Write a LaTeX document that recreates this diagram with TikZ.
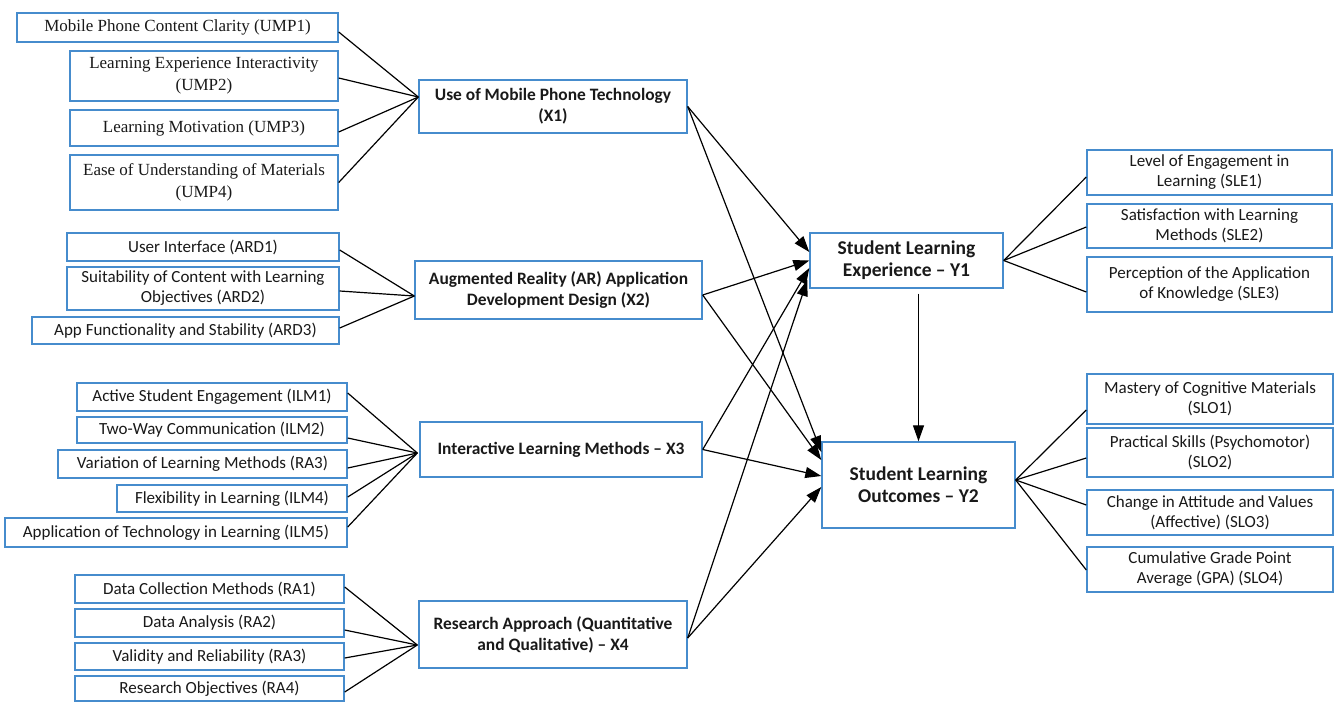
\documentclass[tikz,border=0pt]{standalone}
\usepackage{fontspec}
\setmainfont{Carlito}
\newfontfamily\tnr{Liberation Serif}
\usetikzlibrary{arrows.meta,calc}
\definecolor{boxblue}{RGB}{70,140,205}
\definecolor{txt}{RGB}{25,25,25}
\begin{document}
\begin{tikzpicture}[x=1pt,y=-1pt,
  box/.style={draw=boxblue, line width=1.4pt, fill=white, inner sep=0pt, align=center, text=txt},
  serifbox/.style={box, font=\tnr\fontsize{17}{22}\selectfont},
  sansbox/.style={box, font=\fontsize{17}{20}\selectfont},
  midbox/.style={box, font=\bfseries\fontsize{17.4}{21}\selectfont},
  ybox/.style={box, font=\bfseries\fontsize{19.5}{22}\selectfont},
  link/.style={draw=black, line width=1.2pt},
  arr/.style={link, -{Triangle[length=16pt,width=11pt]}}]
\useasboundingbox (0,0) rectangle (1335,702);
\fill[white] (0,0) rectangle (1335,702);

% UMP group
\node[serifbox, minimum width=321pt, minimum height=29pt] (ump1) at (177.5,27.5) {Mobile Phone Content Clarity (UMP1)};
\node[serifbox, minimum width=268pt, minimum height=50pt] (ump2) at (204,76) {Learning Experience Interactivity\\(UMP2)};
\node[serifbox, minimum width=268pt, minimum height=36pt] (ump3) at (204,128) {Learning Motivation (UMP3)};
\node[serifbox, minimum width=268pt, minimum height=55pt] (ump4) at (204,182.5) {Ease of Understanding of Materials\\(UMP4)};
\node[midbox, minimum width=268pt, minimum height=53pt] (x1) at (553,106.5) {Use of Mobile Phone Technology\\(X1)};

% ARD group
\node[sansbox, minimum width=272pt, minimum height=28pt] (ard1) at (203,247) {User Interface (ARD1)};
\node[sansbox, minimum width=272pt, minimum height=43pt] (ard2) at (203,288.5) {Suitability of Content with Learning\\Objectives (ARD2)};
\node[sansbox, minimum width=307pt, minimum height=27pt] (ard3) at (185.5,330.5) {App Functionality and Stability (ARD3)};
\node[midbox, minimum width=287pt, minimum height=58pt] (x2) at (558.5,290) {Augmented Reality (AR) Application\\Development Design (X2)};

% ILM group
\node[sansbox, minimum width=270pt, minimum height=28pt] (ilm1) at (212,397) {Active Student Engagement (ILM1)};
\node[sansbox, minimum width=270pt, minimum height=26pt] (ilm2) at (212,430) {Two-Way Communication (ILM2)};
\node[sansbox, minimum width=289pt, minimum height=28pt] (ilm3) at (202.5,464) {Variation of Learning Methods (RA3)};
\node[sansbox, minimum width=230pt, minimum height=27pt] (ilm4) at (232,498.5) {Flexibility in Learning (ILM4)};
\node[sansbox, minimum width=342pt, minimum height=29pt] (ilm5) at (176,532.5) {Application of Technology in Learning (ILM5)};
\node[midbox, minimum width=282pt, minimum height=55pt] (x3) at (561,449.5) {Interactive Learning Methods -- X3};

% RA group
\node[sansbox, minimum width=269pt, minimum height=28pt] (ra1) at (209.5,589) {Data Collection Methods (RA1)};
\node[sansbox, minimum width=269pt, minimum height=28pt] (ra2) at (209.5,623) {Data Analysis (RA2)};
\node[sansbox, minimum width=269pt, minimum height=27pt] (ra3) at (209.5,656.5) {Validity and Reliability (RA3)};
\node[sansbox, minimum width=269pt, minimum height=25pt] (ra4) at (209.5,688.5) {Research Objectives (RA4)};
\node[midbox, minimum width=268pt, minimum height=67pt] (x4) at (553,634.5) {Research Approach (Quantitative\\and Qualitative) -- X4};

% Y nodes
\node[ybox, minimum width=193pt, minimum height=55pt] (y1) at (906.5,260.5) {Student Learning\\Experience -- Y1};
\node[ybox, minimum width=193pt, minimum height=86pt] (y2) at (918.5,485) {Student Learning\\Outcomes -- Y2};

% SLE group
\node[sansbox, minimum width=245pt, minimum height=45pt] (sle1) at (1209.5,172.5) {Level of Engagement in\\Learning (SLE1)};
\node[sansbox, minimum width=245pt, minimum height=44pt] (sle2) at (1209.5,226) {Satisfaction with Learning\\Methods (SLE2)};
\node[sansbox, minimum width=245pt, minimum height=55pt] (sle3) at (1209.5,284.5) {Perception of the Application\\of Knowledge (SLE3)};

% SLO group
\node[sansbox, minimum width=246pt, minimum height=50pt] (slo1) at (1210,399) {Mastery of Cognitive Materials\\(SLO1)};
\node[sansbox, minimum width=246pt, minimum height=49pt] (slo2) at (1210,452.5) {Practical Skills (Psychomotor)\\(SLO2)};
\node[sansbox, minimum width=246pt, minimum height=45pt] (slo3) at (1210,512.5) {Change in Attitude and Values\\(Affective) (SLO3)};
\node[sansbox, minimum width=246pt, minimum height=45pt] (slo4) at (1210,569.5) {Cumulative Grade Point\\Average (GPA) (SLO4)};

% convergence points
\coordinate (cx1) at ($(x1.west)+(0,-9.5)$);
\coordinate (cx2) at ($(x2.west)+(0,6)$);
\coordinate (cx3) at ($(x3.west)+(-2,3.5)$);
\coordinate (cx4) at ($(x4.west)+(-1,10.5)$);
\coordinate (cy2) at ($(y2.east)+(0,-5)$);

% indicator links
\draw[link] ($(ump1.east)+(0,4.5)$) -- (cx1);
\draw[link] ($(ump2.east)+(0,2)$) -- (cx1);
\draw[link] ($(ump3.east)+(0,4)$) -- (cx1);
\draw[link] (ump4.east) -- (cx1);

\draw[link] ($(ard1.east)+(0,3)$) -- (cx2);
\draw[link] ($(ard2.east)+(0,2.5)$) -- (cx2);
\draw[link] ($(ard3.east)+(0,-2.5)$) -- (cx2);

\draw[link] ($(ilm1.east)+(0,-4)$) -- (cx3);
\draw[link] ($(ilm2.east)+(0,8)$) -- (cx3);
\draw[link] ($(ilm3.east)+(0,4)$) -- (cx3);
\draw[link] ($(ilm4.east)+(0,-1.5)$) -- (cx3);
\draw[link] ($(ilm5.east)+(0,-5.5)$) -- (cx3);

\draw[link] ($(ra1.east)+(0,-2)$) -- (cx4);
\draw[link] ($(ra2.east)+(0,7)$) -- (cx4);
\draw[link] ($(ra3.east)+(0,1.5)$) -- (cx4);
\draw[link] ($(ra4.east)+(0,3.5)$) -- (cx4);

\draw[link] (y1.east) -- ($(sle1.west)+(0,4.5)$);
\draw[link] (y1.east) -- ($(sle2.west)+(0,1)$);
\draw[link] (y1.east) -- ($(sle3.west)+(0,7.5)$);

\draw[link] (cy2) -- ($(slo1.west)+(0,11)$);
\draw[link] (cy2) -- ($(slo2.west)+(0,5.5)$);
\draw[link] (cy2) -- ($(slo3.west)+(0,-7.5)$);
\draw[link] (cy2) -- ($(slo4.west)+(0,0.5)$);

% structural arrows
\draw[arr] (x1.east) -- ($(y1.west)+(0,-8.5)$);
\draw[arr] (x1.east) -- ($(y2.west)+(0,-33)$);
\draw[arr] ($(x2.east)+(0,5)$) -- (y1.west);
\draw[arr] ($(x2.east)+(0,5)$) -- ($(y2.west)+(0,-25)$);
\draw[arr] (x3.east) -- ($(y1.west)+(0,7.5)$);
\draw[arr] (x3.east) -- ($(y2.west)+(0,-9)$);
\draw[arr] ($(x4.east)+(0,3.5)$) -- ($(y1.west)+(-2,19.5)$);
\draw[arr] ($(x4.east)+(0,3.5)$) -- ($(y2.west)+(0,2)$);
\draw[arr, shorten <=5pt] (y1.south -| y2.north) -- (y2.north);
\end{tikzpicture}
\end{document}
